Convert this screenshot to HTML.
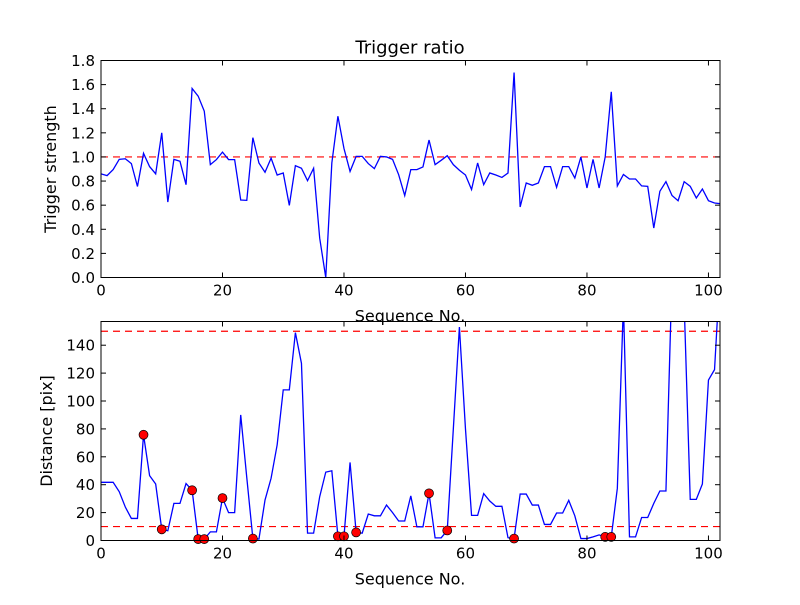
<!DOCTYPE html>
<html><head><meta charset="utf-8"><style>
body{margin:0;background:#fff;}
svg text{font-family:"DejaVu Sans","Liberation Sans",sans-serif;fill:#000;}
</style></head><body>
<svg id="chart" width="800" height="600" xmlns="http://www.w3.org/2000/svg">
<rect width="800" height="600" fill="#fff"/>
</svg>
<script>
const ratio=[0.86,0.845,0.895,0.98,0.985,0.945,0.755,1.03,0.92,0.86,1.2,0.626,0.98,0.964,0.77,1.568,1.504,1.38,0.936,0.978,1.04,0.978,0.978,0.643,0.64,1.16,0.95,0.873,0.99,0.85,0.867,0.598,0.928,0.906,0.803,0.906,0.327,0,0.95,1.338,1.07,0.88,1.005,1.005,0.945,0.903,1.005,1.0,0.98,0.853,0.68,0.895,0.895,0.917,1.14,0.936,0.972,1.01,0.936,0.89,0.85,0.73,0.95,0.77,0.867,0.85,0.83,0.867,1.7,0.585,0.784,0.765,0.784,0.92,0.92,0.748,0.92,0.92,0.825,1.0,0.742,0.98,0.742,1.0,1.54,0.76,0.855,0.817,0.817,0.76,0.756,0.41,0.715,0.795,0.68,0.637,0.795,0.756,0.66,0.734,0.637,0.618,0.612];
const distance=[41.7,41.7,41.7,35,24,15.8,15.8,75.8,46.5,40.5,8,7,26.6,26.6,40.8,36,1,1,6.2,6.2,30.4,20,20,90,45,1.4,1,29,44.6,68.6,108,108,149,127,5.3,5.3,31.4,49,50,3,3,56,5.8,5.3,19,17.7,17.7,25.4,20,14,14,32,9.8,9.8,33.8,1.9,1.9,7.2,80,153,80,18,18,33.6,28.3,24.5,24.5,2,1.4,33.3,33.3,25.4,25.4,11.5,11.5,19.7,19.7,28.8,17.7,1.4,1.4,2.6,4,2.6,2.6,37.4,170,2.6,2.6,16.5,16.5,26.6,35.5,35.5,190,200,170,29.5,29.5,40.5,115,122.5,200];
const flagged=[7,10,15,16,17,20,25,39,40,42,54,57,68,83,84];
const ratioThreshold=[1.0];
const distThresholds=[10,150];
const xTicks=[0,20,40,60,80,100];
const ratioTicks=[0,0.2,0.4,0.6,0.8,1.0,1.2,1.4,1.6,1.8];
const distTicks=[0,20,40,60,80,100,120,140];

const NS='http://www.w3.org/2000/svg';
const svg=document.getElementById('chart');
function mk(t,a,p){const e=document.createElementNS(NS,t);for(const k in a)e.setAttribute(k,a[k]);(p||svg).appendChild(e);return e;}
const X0=101,X1=720,XMAX=101.9;
function panel(top,bot,ymax,vals,yticks,fmt,thr,ylabel,title,pname,dots){
  const g=mk('g',{});
  
  
  const sx=v=>X0+(X1-X0)*v/XMAX, sy=v=>bot-(bot-top)*v/ymax;
  const cid='clip-'+pname;
  const cp=mk('clipPath',{id:cid},g);mk('rect',{x:X0,y:top,width:X1-X0,height:bot-top},cp);
  thr.forEach(t=>{const l=mk('line',{x1:X0,x2:X1,y1:sy(t),y2:sy(t),stroke:'#f00','stroke-width':1.2,'stroke-dasharray':'7,5'},g);
    });
  const pl=mk('polyline',{points:vals.map((v,i)=>sx(i)+','+sy(v)).join(' '),fill:'none',stroke:'#00f','stroke-width':1.3,'clip-path':'url(#'+cid+')'},g);
  
  if(dots)dots.forEach(i=>{const c=mk('circle',{cx:sx(i),cy:sy(vals[i]),r:4.5,fill:'#f00',stroke:'#000','stroke-width':0.7},g);
    });
  mk('rect',{x:X0,y:top,width:X1-X0,height:bot-top,fill:'none',stroke:'#000','stroke-width':1},g);
  xTicks.forEach(t=>{const x=sx(t);mk('line',{x1:x,x2:x,y1:bot,y2:bot-5,stroke:'#000'},g);mk('line',{x1:x,x2:x,y1:top,y2:top+5,stroke:'#000'},g);
    const tx=mk('text',{x:x,y:bot+18,'text-anchor':'middle','font-size':15},g);tx.textContent=t;
    });
  yticks.forEach(t=>{const y=sy(t);mk('line',{x1:X0,x2:X0+5,y1:y,y2:y,stroke:'#000'},g);mk('line',{x1:X1,x2:X1-5,y1:y,y2:y,stroke:'#000'},g);
    const tx=mk('text',{x:X0-6,y:y+5.5,'text-anchor':'end','font-size':15},g);tx.textContent=fmt(t);
    });
  const xl=mk('text',{x:410,y:bot+44,'text-anchor':'middle','font-size':16},g);xl.textContent='Sequence No.';
  
  const cy=(top+bot)/2, lx=ylabel[1];
  const yl=mk('text',{x:lx,y:cy,'text-anchor':'middle','font-size':16,transform:'rotate(-90 '+lx+' '+cy+')'},g);yl.textContent=ylabel[0];
  
  if(title){const tt=mk('text',{x:410,y:top-7,'text-anchor':'middle','font-size':18},g);tt.textContent=title;
    }
}
panel(60.5,277.5,1.8,ratio,ratioTicks,v=>v.toFixed(1),ratioThreshold,['Trigger strength',56],'Trigger ratio','ratio-panel',null);
panel(321.5,540.5,157,distance,distTicks,v=>String(v),distThresholds,['Distance [pix]',52],null,'distance-panel',flagged);
</script>
</body></html>
